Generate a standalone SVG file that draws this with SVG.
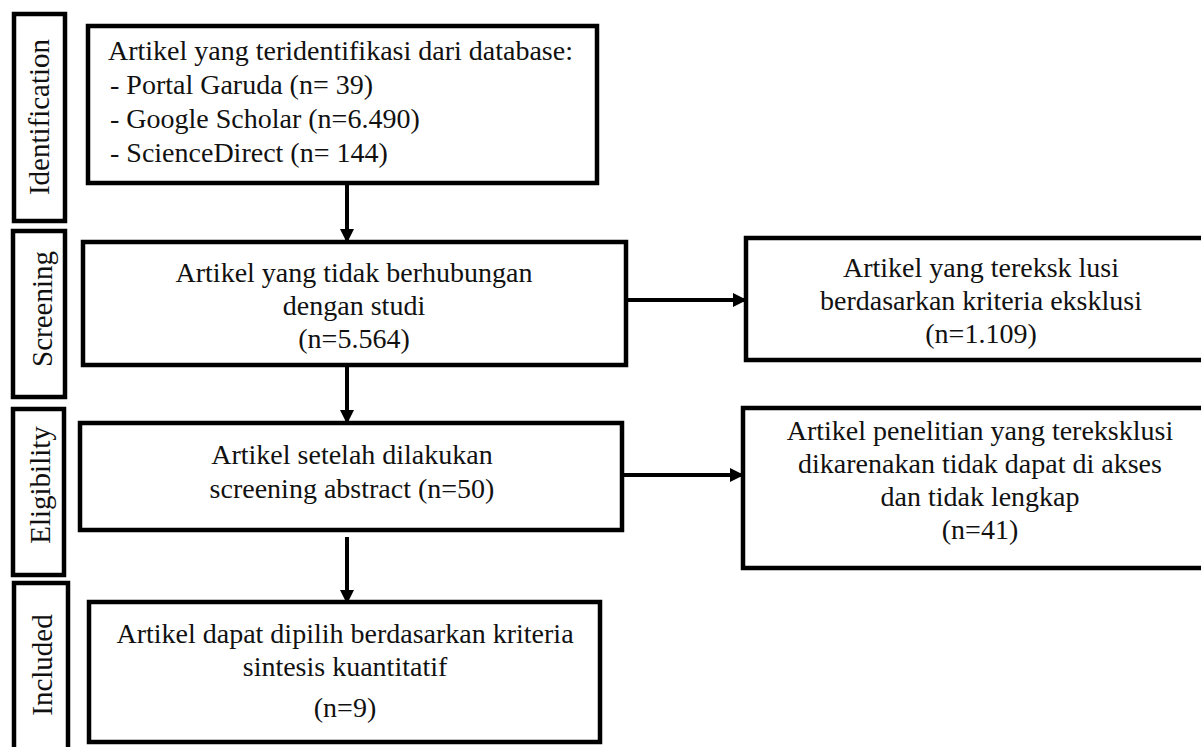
<svg xmlns="http://www.w3.org/2000/svg" width="1201" height="747" viewBox="0 0 1201 747">
<style>
.box{fill:#fff;stroke:#000;stroke-width:4.5}
.lbl{fill:#fff;stroke:#000;stroke-width:4.5}
.t{font-family:"Liberation Serif","Times New Roman",serif;font-size:28px;fill:#111}
.c{text-anchor:middle}
.v{font-family:"Liberation Serif","Times New Roman",serif;font-size:29px;fill:#111;text-anchor:middle}
.ln{stroke:#000;stroke-width:4;fill:none}
</style>
<defs>
<marker id="ah" viewBox="0 0 14 14" refX="13" refY="7" markerWidth="14" markerHeight="14" markerUnits="userSpaceOnUse" orient="auto">
<path d="M0,0 L14,7 L0,14 Z" fill="#000"/>
</marker>
</defs>
<rect width="1201" height="747" fill="#fff"/>

<g id="label-identification">
<rect class="lbl" x="14" y="14" width="51" height="207"/>
<text class="v" transform="translate(49,117) rotate(-90)">Identification</text>
</g>
<g id="label-screening">
<rect class="lbl" x="13" y="231" width="52" height="166"/>
<text class="v" transform="translate(52,309) rotate(-90)">Screening</text>
</g>
<g id="label-eligibility">
<rect class="lbl" x="13" y="409" width="51" height="166"/>
<text class="v" transform="translate(50,485) rotate(-90)">Eligibility</text>
</g>
<g id="label-included">
<rect class="lbl" x="14" y="583" width="54" height="180"/>
<text class="v" transform="translate(52,665) rotate(-90)">Included</text>
</g>

<g id="connectors">
<line class="ln" x1="347" y1="183" x2="347" y2="242" marker-end="url(#ah)"/>
<line class="ln" x1="347" y1="365" x2="347" y2="423" marker-end="url(#ah)"/>
<line class="ln" x1="347" y1="537" x2="347" y2="603" marker-end="url(#ah)"/>
<line class="ln" x1="625" y1="300" x2="746" y2="300" marker-end="url(#ah)"/>
<line class="ln" x1="622" y1="475" x2="743" y2="475" marker-end="url(#ah)"/>
</g>

<g id="node-identified">
<rect class="box" x="88" y="26" width="509" height="157"/>
<text class="t" x="108" y="60">Artikel yang teridentifikasi dari database:</text>
<text class="t" x="110" y="94">- Portal Garuda (n= 39)</text>
<text class="t" x="110" y="128">- Google Scholar (n=6.490)</text>
<text class="t" x="110" y="162">- ScienceDirect (n= 144)</text>
</g>

<g id="node-screening">
<rect class="box" x="83" y="242" width="543" height="123"/>
<text class="t c" x="354" y="282">Artikel yang tidak berhubungan</text>
<text class="t c" x="354" y="315">dengan studi</text>
<text class="t c" x="354" y="348">(n=5.564)</text>
</g>

<g id="node-excluded1">
<rect class="box" x="746" y="238" width="470" height="122"/>
<text class="t c" x="981" y="277">Artikel yang tereksk lusi</text>
<text class="t c" x="981" y="310">berdasarkan kriteria eksklusi</text>
<text class="t c" x="981" y="343">(n=1.109)</text>
</g>

<g id="node-eligibility">
<rect class="box" x="80" y="423" width="542" height="107"/>
<text class="t c" x="352" y="464">Artikel setelah dilakukan</text>
<text class="t c" x="352" y="498">screening abstract (n=50)</text>
</g>

<g id="node-excluded2">
<rect class="box" x="743" y="408" width="473" height="160"/>
<text class="t c" x="980" y="440">Artikel penelitian yang tereksklusi</text>
<text class="t c" x="980" y="473">dikarenakan tidak dapat di akses</text>
<text class="t c" x="980" y="506">dan tidak lengkap</text>
<text class="t c" x="980" y="539">(n=41)</text>
</g>

<g id="node-included">
<rect class="box" x="89" y="602" width="511" height="140"/>
<text class="t c" x="345" y="643">Artikel dapat dipilih berdasarkan kriteria</text>
<text class="t c" x="345" y="676">sintesis kuantitatif</text>
<text class="t c" x="345" y="717">(n=9)</text>
</g>
</svg>
